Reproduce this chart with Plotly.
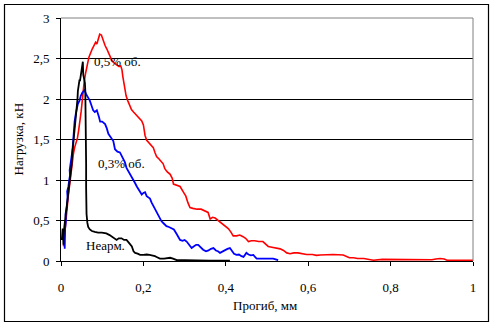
import plotly.graph_objects as go

# Red: 0,5% об.
red_x = [0.006,0.008,0.010,0.012,0.014,0.016,0.018,0.020,0.022,0.024,0.026,0.028,0.030,0.033,0.036,0.040,0.043,0.046,0.049,0.051,0.053,0.056,0.059,0.062,0.065,0.068,0.072,0.076,0.080,0.084,0.087,0.090,0.094,0.098,0.101,0.104,0.107,0.111,0.115,0.119,0.124,0.130,0.136,0.141,0.145,0.148,0.150,0.152,0.155,0.158,0.162,0.166,0.171,0.176,0.183,0.190,0.196,0.200,0.202,0.204,0.208,0.213,0.218,0.224,0.228,0.232,0.238,0.244,0.248,0.252,0.258,0.265,0.270,0.273,0.280,0.289,0.296,0.303,0.308,0.313,0.320,0.330,0.340,0.350,0.357,0.362,0.368,0.374,0.382,0.390,0.398,0.406,0.412,0.418,0.426,0.434,0.442,0.448,0.455,0.462,0.470,0.480,0.490,0.497,0.503,0.512,0.522,0.532,0.540,0.548,0.556,0.565,0.575,0.585,0.596,0.610,0.620,0.629,0.640,0.660,0.685,0.693,0.700,0.710,0.720,0.735,0.746,0.758,0.780,0.800,0.820,0.840,0.870,0.900,0.910,0.920,0.930,0.937,0.960,1.000]
red_y = [0.18,0.30,0.42,0.50,0.62,0.70,0.82,0.90,1.00,1.08,1.16,1.25,1.32,1.40,1.45,1.52,1.62,1.72,1.85,1.95,2.10,2.20,2.30,2.36,2.45,2.52,2.58,2.62,2.66,2.70,2.68,2.74,2.80,2.79,2.74,2.71,2.66,2.62,2.57,2.52,2.47,2.44,2.42,2.40,2.41,2.36,2.28,2.22,2.12,2.04,1.98,1.92,1.87,1.84,1.80,1.77,1.73,1.68,1.60,1.55,1.49,1.46,1.43,1.40,1.34,1.29,1.26,1.23,1.20,1.14,1.10,1.07,1.02,0.95,0.94,0.92,0.86,0.80,0.72,0.66,0.65,0.64,0.64,0.62,0.60,0.52,0.54,0.53,0.50,0.47,0.44,0.40,0.36,0.31,0.31,0.32,0.30,0.28,0.24,0.25,0.25,0.24,0.24,0.21,0.18,0.17,0.16,0.15,0.13,0.10,0.09,0.10,0.10,0.09,0.08,0.08,0.07,0.075,0.08,0.08,0.075,0.06,0.04,0.04,0.03,0.03,0.02,0.01,0.02,0.02,0.02,0.015,0.015,0.015,0.025,0.03,0.025,0.01,0.01,0.01]

# Blue: 0,3% об.
blue_x = [0.009,0.009,0.010,0.012,0.011,0.014,0.016,0.015,0.018,0.020,0.022,0.021,0.024,0.026,0.028,0.029,0.031,0.033,0.036,0.041,0.045,0.048,0.052,0.057,0.061,0.066,0.070,0.074,0.078,0.082,0.087,0.092,0.095,0.100,0.107,0.111,0.115,0.119,0.123,0.127,0.131,0.137,0.143,0.147,0.151,0.155,0.159,0.165,0.170,0.176,0.180,0.184,0.190,0.196,0.200,0.204,0.208,0.212,0.216,0.220,0.224,0.230,0.236,0.240,0.244,0.250,0.256,0.262,0.268,0.274,0.280,0.285,0.289,0.295,0.300,0.305,0.311,0.317,0.322,0.328,0.333,0.339,0.345,0.352,0.358,0.364,0.370,0.376,0.381,0.386,0.392,0.398,0.404,0.410,0.415,0.420,0.426,0.432,0.438,0.443,0.450,0.455,0.461,0.467,0.471,0.475,0.483,0.490,0.500,0.510,0.515,0.521,0.527]
blue_y = [0.15,0.30,0.40,0.50,0.58,0.66,0.78,0.86,0.92,1.00,1.06,1.12,1.20,1.30,1.38,1.48,1.60,1.72,1.82,1.94,1.98,2.04,2.08,2.11,2.06,2.02,1.98,1.92,1.86,1.84,1.86,1.78,1.72,1.72,1.69,1.64,1.57,1.54,1.51,1.48,1.38,1.35,1.34,1.30,1.26,1.22,1.15,1.10,1.05,1.00,0.96,0.92,0.87,0.82,0.84,0.85,0.80,0.79,0.77,0.72,0.68,0.62,0.56,0.51,0.49,0.46,0.43,0.42,0.40,0.39,0.34,0.29,0.26,0.25,0.26,0.24,0.20,0.16,0.18,0.20,0.20,0.17,0.14,0.12,0.13,0.15,0.16,0.13,0.12,0.10,0.12,0.14,0.15,0.16,0.12,0.09,0.075,0.08,0.06,0.05,0.10,0.08,0.07,0.075,0.05,0.03,0.03,0.03,0.03,0.03,0.03,0.02,0.01]

# Black: Неарм.
black_x = [0.002,0.004,0.006,0.006,0.008,0.010,0.012,0.014,0.017,0.019,0.022,0.024,0.026,0.027,0.029,0.030,0.032,0.034,0.036,0.038,0.040,0.041,0.043,0.045,0.046,0.048,0.050,0.052,0.053,0.054,0.056,0.058,0.059,0.060,0.060,0.061,0.061,0.061,0.062,0.064,0.066,0.070,0.075,0.082,0.090,0.099,0.110,0.118,0.123,0.130,0.135,0.140,0.147,0.153,0.159,0.164,0.168,0.172,0.176,0.180,0.186,0.192,0.200,0.208,0.215,0.222,0.228,0.232,0.240,0.250,0.258,0.265,0.272,0.281,0.300,0.330,0.360,0.390,0.410]
black_y = [0.26,0.40,0.20,0.30,0.42,0.50,0.60,0.68,0.80,0.90,1.00,1.10,1.20,1.30,1.40,1.50,1.60,1.70,1.80,1.90,2.00,2.10,2.18,2.24,2.22,2.30,2.36,2.42,2.46,2.30,2.26,2.20,2.10,1.80,1.50,1.20,0.90,0.70,0.58,0.47,0.42,0.39,0.37,0.36,0.35,0.35,0.34,0.32,0.30,0.27,0.26,0.28,0.28,0.26,0.26,0.23,0.20,0.18,0.12,0.10,0.09,0.075,0.075,0.08,0.075,0.07,0.06,0.05,0.03,0.03,0.04,0.04,0.03,0.01,0.01,0.005,0.005,0.005,0.005]

x_ticks = [0, 0.2, 0.4, 0.6, 0.8, 1]
x_ticktext = ["0", "0,2", "0,4", "0,6", "0,8", "1"]
y_ticks = [0, 0.5, 1, 1.5, 2, 2.5, 3]
y_ticktext = ["0", "0,5", "1", "1,5", "2", "2,5", "3"]

labels = ["0,5% об.", "0,3% об.", "Неарм."]
label_x = [0.075, 0.086, 0.056]
label_y = [2.46, 1.20, 0.19]

FONT = "Liberation Serif"

fig = go.Figure()
fig.add_trace(go.Scatter(x=red_x, y=red_y, mode="lines", line=dict(color="#FF0000", width=1.6), showlegend=False))
fig.add_trace(go.Scatter(x=blue_x, y=blue_y, mode="lines", line=dict(color="#0000FF", width=1.8), showlegend=False))
fig.add_trace(go.Scatter(x=black_x, y=black_y, mode="lines", line=dict(color="#000000", width=1.8), showlegend=False))

for t, lx, ly in zip(labels, label_x, label_y):
    fig.add_annotation(x=lx, y=ly, text=t, showarrow=False, xanchor="left", yanchor="middle",
                       font=dict(family=FONT, size=13, color="black"))

# axis titles
fig.add_annotation(xref="paper", yref="paper", x=(265 - 61) / 412, y=(261 - 305) / 243,
                   text="Прогиб, мм", showarrow=False, xanchor="center", yanchor="middle",
                   font=dict(family=FONT, size=13, color="black"))
fig.add_annotation(xref="paper", yref="paper", x=(18 - 61) / 412, y=0.5,
                   text="Нагрузка, кН", showarrow=False, xanchor="center", yanchor="middle", textangle=-90,
                   font=dict(family=FONT, size=13, color="black"))

# grey top/right border of plot area
fig.add_shape(type="line", xref="paper", yref="paper", x0=0, x1=1, y0=1, y1=1, line=dict(color="#808080", width=1))
fig.add_shape(type="line", xref="paper", yref="paper", x0=1, x1=1, y0=0, y1=1, line=dict(color="#808080", width=1))
# outer frame
fig.add_shape(type="rect", xref="paper", yref="paper",
              x0=(4.5 - 61) / 412, x1=(488.5 - 61) / 412, y0=(261 - 321.5) / 243, y1=(261 - 4.5) / 243,
              line=dict(color="black", width=1.2))

fig.update_layout(
    width=494, height=327,
    margin=dict(l=61, r=21, t=18, b=66),
    paper_bgcolor="white", plot_bgcolor="white",
    font=dict(family=FONT, size=13, color="black"),
    xaxis=dict(range=[0, 1], tickvals=x_ticks, ticktext=x_ticktext, showgrid=False, zeroline=False,
               showline=True, linecolor="black", linewidth=1, ticks="outside", ticklen=4, tickcolor="black",
               ticklabelstandoff=10, fixedrange=True),
    yaxis=dict(range=[0, 3], tickvals=y_ticks, ticktext=y_ticktext, showgrid=True, gridcolor="black", gridwidth=1,
               zeroline=False, showline=True, linecolor="black", linewidth=1, ticks="outside", ticklen=4,
               tickcolor="black", ticklabelstandoff=4, fixedrange=True),
)

fig.write_html("out.html", config={"displayModeBar": False},
               post_script="document.body.style.margin='0';document.body.style.overflow='hidden';")
